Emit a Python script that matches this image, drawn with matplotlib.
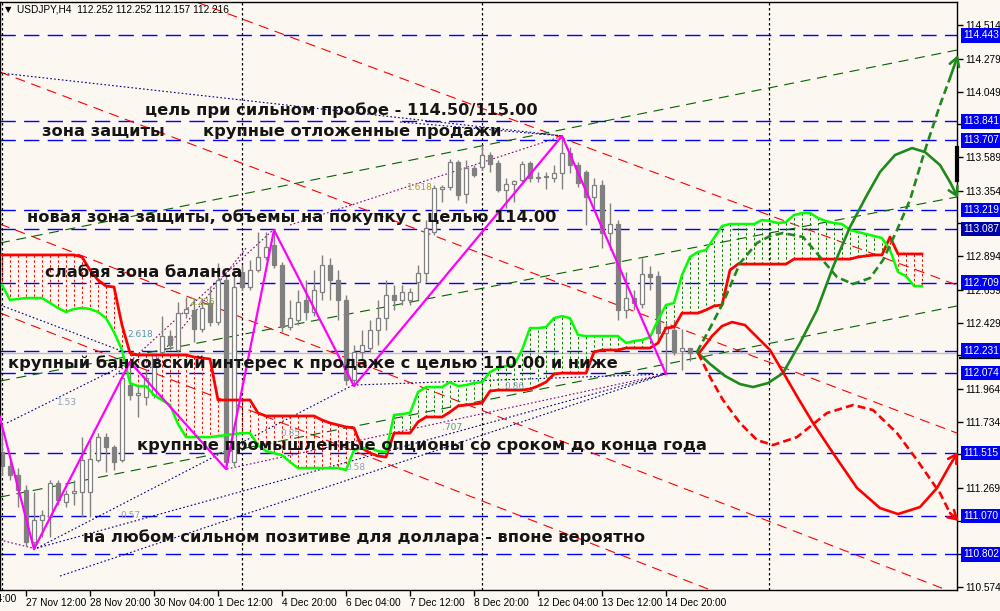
import numpy as np
import matplotlib
matplotlib.use('Agg')
import matplotlib.pyplot as plt
import matplotlib.transforms as mtransforms

# ------------------------------------------------------------------ data
BAR0 = -4  # first bar index (bar 0 = 27 Nov 12:00, H4)
opens = [111.815, 111.520, 111.422, 111.359, 111.253, 110.889, 111.043, 111.064, 111.303, 111.169,
         111.232, 111.239, 111.239, 111.464, 111.625, 111.555, 111.464, 111.990, 111.920, 111.906,
         111.920, 112.222, 112.334, 112.236, 112.495, 112.517, 112.383, 112.566, 112.432, 112.727,
         111.450, 112.783, 112.678, 112.797, 112.889, 112.973, 112.832, 112.397, 112.446, 112.587,
         112.503, 112.643, 112.832, 112.727, 112.587, 112.025, 112.222, 112.250, 112.376, 112.460,
         112.622, 112.587, 112.587, 112.713, 112.776, 113.064, 113.366, 113.380, 113.555, 113.331,
         113.513, 113.520, 113.604, 113.548, 113.359, 113.401, 113.429, 113.548, 113.443, 113.450,
         113.443, 113.478, 113.618, 113.534, 113.485, 113.310, 113.394, 113.057, 113.120, 112.517,
         112.601, 112.559, 112.769, 112.755, 112.355, 112.376, 112.229, 112.252]
highs = [111.920, 111.674, 111.464, 111.408, 111.288, 111.239, 111.113, 111.324, 111.324, 111.253,
         111.324, 111.625, 111.604, 111.653, 111.653, 111.569, 112.081, 112.152, 111.990, 112.095,
         112.215, 112.474, 112.376, 112.573, 112.608, 112.601, 112.601, 112.678, 112.846, 112.762,
         112.797, 112.833, 112.867, 113.064, 113.064, 113.078, 112.853, 112.587, 112.657, 112.727,
         112.797, 112.903, 112.881, 112.797, 112.622, 112.271, 112.376, 112.446, 112.587, 112.727,
         112.692, 112.692, 112.671, 112.833, 113.148, 113.394, 113.394, 113.576, 113.569, 113.569,
         113.534, 113.674, 113.625, 113.569, 113.443, 113.429, 113.562, 113.562, 113.485, 113.485,
         113.534, 113.738, 113.660, 113.555, 113.499, 113.443, 113.429, 113.267, 113.148, 112.783,
         112.657, 112.881, 112.825, 112.790, 112.425, 112.446, 112.383, 112.252]
lows = [111.590, 111.359, 111.324, 111.134, 110.860, 110.839, 110.924, 110.924, 111.148, 111.134,
        111.148, 111.064, 111.064, 111.450, 111.380, 111.394, 111.450, 111.885, 111.766, 111.850,
        111.899, 112.201, 112.236, 112.222, 112.460, 112.292, 112.362, 112.404, 112.411, 111.401,
        111.422, 112.657, 112.657, 112.783, 112.867, 112.811, 112.362, 112.376, 112.411, 112.446,
        112.474, 112.587, 112.587, 112.446, 111.990, 111.983, 112.166, 112.222, 112.271, 112.376,
        112.517, 112.552, 112.552, 112.587, 112.713, 113.043, 113.274, 113.359, 113.289, 113.268,
        113.450, 113.499, 113.485, 113.345, 113.232, 113.274, 113.415, 113.415, 113.415, 113.366,
        113.415, 113.366, 113.478, 113.380, 113.113, 113.218, 112.952, 112.938, 112.446, 112.460,
        112.517, 112.531, 112.657, 112.306, 112.067, 112.201, 112.095, 112.157]
closes = [111.604, 111.422, 111.359, 111.253, 110.889, 111.043, 111.078, 111.303, 111.183, 111.225,
          111.246, 111.464, 111.471, 111.625, 111.555, 111.450, 112.039, 111.920, 111.934, 112.039,
          112.201, 112.334, 112.271, 112.495, 112.524, 112.383, 112.531, 112.432, 112.727, 111.450,
          112.678, 112.678, 112.797, 112.889, 112.959, 112.832, 112.397, 112.460, 112.573, 112.503,
          112.657, 112.832, 112.727, 112.587, 112.025, 112.222, 112.271, 112.376, 112.460, 112.622,
          112.587, 112.643, 112.643, 112.776, 113.092, 113.373, 113.380, 113.555, 113.324, 113.513,
          113.464, 113.604, 113.541, 113.359, 113.401, 113.422, 113.541, 113.443, 113.443, 113.450,
          113.478, 113.618, 113.534, 113.408, 113.310, 113.394, 113.057, 113.120, 112.517, 112.601,
          112.566, 112.769, 112.748, 112.355, 112.397, 112.222, 112.250, 112.216]

ICHI0 = -3
ichi_red = ([112.903] * 10 + [112.889, 112.797, 112.727, 112.685, 112.678, 112.411, 112.215]
            + [112.201] * 7 + [112.187, 112.180, 112.173] + [111.885] * 5 + [111.794]
            + [111.773] * 7 + [111.745, 111.724, 111.710, 111.696, 111.689]
            + [111.548, 111.513, 111.492, 111.485] + [111.653] * 3 + [111.731]
            + [111.766] * 3 + [111.801, 111.843, 111.850, 111.857, 111.864] + [111.948]
            + [111.955] * 4 + [111.962, 111.983, 112.011, 112.067] + [112.074] * 4 + [112.222]
            + [112.236] * 3 + [112.250] * 4
            + [112.285, 112.390, 112.397, 112.495, 112.495, 112.495, 112.517, 112.545, 112.552]
            + [112.797] + [112.839] * 7 + [112.874] * 8 + [112.889, 112.896, 112.903, 112.903]
            + [113.029] + [112.910] * 4)
ichi_green = ([112.692, 112.587, 112.594, 112.601, 112.601, 112.601, 112.566, 112.531, 112.503, 112.524,
               112.531, 112.524, 112.503, 112.460, 112.362, 112.236, 112.004, 111.983, 111.983, 111.920,
               111.885, 111.850, 111.717, 111.625, 111.625, 111.625, 111.625, 111.632, 111.639, 111.646,
               111.653, 111.653, 111.569, 111.527, 111.513, 111.499, 111.450]
              + [111.408] * 6
              + [111.394, 111.534, 111.548, 111.548, 111.527, 111.520, 111.780, 111.787, 111.794, 111.941,
                 111.976, 111.976, 111.976, 112.011, 111.983, 111.990, 112.004, 112.011, 112.081, 112.110,
                 112.124, 112.131, 112.236, 112.390, 112.390, 112.397, 112.460, 112.474, 112.460, 112.341]
              + [112.334] * 5
              + [112.285, 112.299, 112.306, 112.327, 112.446, 112.552, 112.566, 112.762, 112.889, 112.924,
                 112.938, 113.022, 113.106]
              + [113.120] * 4
              + [113.148, 113.141, 113.127, 113.134, 113.183, 113.197, 113.197, 113.162, 113.141, 113.127,
                 113.120, 113.078, 113.064, 113.050, 113.036, 113.022, 112.938, 112.783, 112.755, 112.685,
                 112.685])

zigzag_bar = [-4, 1, 13, 25, 31, 41, 67, 80]
zigzag_price = [111.920, 110.839, 112.152, 111.401, 113.078, 111.983, 113.738, 112.067]

levels = [114.443, 113.841, 113.707, 113.219, 113.087, 112.709, 112.231, 112.074, 111.515, 111.070, 110.802]
bid_price = 112.216

# forecast scenario paths (bar, price)
fc_green_solid_bar = [83.875, 85.5, 87.375, 89.25, 90.875, 92.75, 94.625, 96.75, 98.875, 100.875,
                      103.0, 105.125, 106.75, 108.625, 110.75, 112.375, 114.25, 115.5, 116.5]
fc_green_solid_px = [112.222, 112.138, 112.054, 111.997, 111.976, 112.004, 112.074, 112.285, 112.517, 112.818,
                     113.099, 113.324, 113.485, 113.604, 113.653, 113.625, 113.534, 113.415, 113.303]
fc_green_dash_bar = [83.875, 85.5, 87.125, 89.25, 91.375, 93.0, 94.625, 97.125, 99.25, 101.375,
                     103.375, 105.5, 107.125, 108.875, 110.5, 112.375, 114.25, 115.5, 116.5]
fc_green_dash_px = [112.222, 112.390, 112.566, 112.846, 112.987, 113.036, 113.057, 113.029, 112.889, 112.748,
                    112.699, 112.741, 112.867, 113.078, 113.289, 113.639, 113.955, 114.145, 114.306]
fc_red_solid_bar = [84.25, 85.75, 87.0, 88.25, 89.875, 91.375, 93.0, 94.625, 96.5, 98.375,
                    100.875, 103.875, 106.75, 109.0, 111.75, 113.875, 115.5, 116.5]
fc_red_solid_px = [112.222, 112.334, 112.404, 112.432, 112.411, 112.327, 112.236, 112.081, 111.899, 111.724,
                   111.513, 111.268, 111.127, 111.085, 111.134, 111.268, 111.429, 111.520]
fc_red_dash_bar = [84.0, 85.5, 87.125, 89.25, 91.375, 93.375, 96.375, 100.125, 103.375, 105.875,
                   108.875, 111.375, 114.25, 115.5, 116.6]
fc_red_dash_px = [112.215, 112.046, 111.885, 111.724, 111.604, 111.569, 111.625, 111.794, 111.850, 111.815,
                  111.653, 111.464, 111.232, 111.092, 111.036]

# channel lines: two anchor points each (bar, price)
red_channels = [((28.0, 114.538), (116.375, 112.692)),
                ((-3.25, 114.187), (116.375, 111.653)),
                ((-3.25, 113.120), (116.375, 110.524)),
                ((-3.25, 112.496), (116.375, 109.878))]
green_channels = [((-3.25, 112.987), (116.375, 114.341)),
                  ((-3.25, 112.018), (116.375, 113.310)),
                  ((-3.25, 111.204), (116.375, 112.545))]
navy_dotted = [((-3.25, 114.180), (67.125, 113.738)),
               ((46.75, 113.836), (67.125, 113.738)),
               ((1.375, 110.846), (40.875, 111.990)),
               ((1.375, 110.846), (79.875, 112.067)),
               ((4.25, 110.650), (79.875, 112.067)),
               ((40.875, 111.990), (79.875, 112.067)),
               ((-3.25, 112.552), (12.625, 112.215)),
               ((-2.375, 111.724), (13.0, 112.152))]
purple_dotted = [((10.875, 112.046), (30.875, 113.078)),
                 ((14.625, 112.046), (27.625, 112.959)),
                 ((33.0, 113.113), (67.125, 113.738)),
                 ((25.125, 111.401), (79.875, 112.067)),
                 ((-3.25, 110.903), (1.375, 110.839))]

fib_labels = ['1.53', '0.57', '0.85', '0.58', '.707', '0.86', '2.618', '2.236', '1.618']
fib_bar = [3.875, 11.75, 31.75, 39.875, 52.0, 59.75, 12.625, 20.375, 47.625]
fib_price = [111.871, 111.078, 111.653, 111.415, 111.689, 111.983, 112.348, 112.566, 113.373]
fib_color = ['#8aa2bb', '#8aa2bb', '#8aa2bb', '#8aa2bb', '#4f9c8c', '#8aa2bb', '#4f98b0', '#8c9c3c', '#a8a030']

separators = [-3, 27, 57, 92.875]

notes = ['цель при сильном пробое - 114.50/115.00',
         'зона защиты',
         'крупные отложенные продажи',
         'новая зона защиты, объемы на покупку с целью 114.00',
         'слабая зона баланса',
         'крупный банковский интерес к продаже с целью 110.00 и ниже',
         'крупные промышленные опционы со сроком до конца года',
         'на любом сильном позитиве для доллара - впоне вероятно']
note_bar = [14.875, 2.0, 22.125, 0.125, 2.375, -2.25, 13.875, 7.125]
note_price = [113.920, 113.766, 113.766, 113.169, 112.783, 112.145, 111.569, 110.924]

tick_prices = [114.514, 114.279, 114.049, 113.819, 113.589, 113.354, 113.124, 112.894, 112.659,
               112.429, 112.199, 111.964, 111.734, 111.504, 111.269, 111.039, 110.804, 110.574]
covered_ticks = [113.819, 113.124, 112.199, 111.504, 111.039, 110.804]
time_bars = [-8, 0, 8, 16, 24, 32, 40, 48, 56, 64, 72, 80]
time_labels = ['24 Nov 04:00', '27 Nov 12:00', '28 Nov 20:00', '30 Nov 04:00', '1 Dec 12:00',
               '4 Dec 20:00', '6 Dec 04:00', '7 Dec 12:00', '8 Dec 20:00', '12 Dec 04:00',
               '13 Dec 12:00', '14 Dec 20:00']
title = 'USDJPY,H4  112.252 112.252 112.157 112.216'

# ------------------------------------------------------------------ figure
BG = '#fdf7f1'
SCALE_FONT = 'Liberation Sans'
W, H = 1000, 611
XL = (-3.25, 116.375)
YL = (110.552, 114.678)
fig = plt.figure(figsize=(10, 6.11), dpi=100, facecolor=BG)
ax = fig.add_axes([0, 21 / H, 957 / W, 588 / H])
ax.set_facecolor(BG)
for s in ax.spines.values():
    s.set_color('black')
    s.set_linewidth(1)

# right price scale / time scale (set before limits so limits are not widened)
ax.yaxis.tick_right()
ax.set_yticks(tick_prices)
ax.set_yticklabels(['' if v in covered_ticks else f'{v:.3f}' for v in tick_prices], family=SCALE_FONT)
ax.tick_params(axis='y', direction='out', length=4, width=1, pad=2, labelsize=7.3, colors='black')
vis = [(b, t) for b, t in zip(time_bars, time_labels) if b >= XL[0]]
ax.set_xticks([b for b, _ in vis])
ax.set_xticklabels([t for _, t in vis], ha='left', family=SCALE_FONT)
ax.tick_params(axis='x', direction='out', length=4, width=1, pad=2, labelsize=7.3, colors='black')
ax.set_xlim(*XL)
ax.set_ylim(*YL)
ax.set_autoscale_on(False)

# time label left of the view: only its tail is inside the picture
fig.text(16 / W, 1 - 599 / H, time_labels[0], fontsize=7.3, family=SCALE_FONT, va='center', ha='right')

# horizontal levels
for lv in levels:
    ax.axhline(lv, color='#0000ff', lw=1.0, dashes=(11, 6), zorder=1)
ax.axhline(bid_price, color='#c0c0c0', lw=1.0, zorder=1)

# separators
for sx in separators:
    ax.axvline(sx, color='black', lw=0.9, dashes=(2, 2), zorder=1)

# channels
for p1, p2 in red_channels:
    ax.axline(p1, p2, color='#ff0000', lw=0.8, dashes=(9, 6), zorder=1.2)
for p1, p2 in green_channels:
    ax.axline(p1, p2, color='#006400', lw=0.8, dashes=(9, 6), zorder=1.2)
for (x1, y1), (x2, y2) in navy_dotted:
    ax.plot([x1, x2], [y1, y2], color='#000080', lw=0.8, dashes=(1.5, 2), zorder=1.3)
for (x1, y1), (x2, y2) in purple_dotted:
    ax.plot([x1, x2], [y1, y2], color='#800080', lw=0.8, dashes=(1.5, 2), zorder=1.3)

# ichimoku cloud hatch + lines
ik = np.arange(ICHI0, ICHI0 + len(ichi_red))
ir = np.array(ichi_red)
ig = np.array(ichi_green)
for k, r, g in zip(ik, ir, ig):
    col = '#ff0000' if r >= g else '#008000'
    ax.plot([k, k], [r, g], color=col, lw=0.7, dashes=(2.5, 2.5), zorder=1.5)

# candles
kb = np.arange(BAR0, BAR0 + len(opens))
o = np.array(opens); h = np.array(highs); l = np.array(lows); c = np.array(closes)
ax.vlines(kb, l, h, color='#808080', lw=1.0, zorder=2)
up = c >= o
body_h = np.where(np.abs(c - o) < 0.004, 0.004, np.abs(c - o))
body_b = np.minimum(o, c)
ax.bar(kb[up], body_h[up], bottom=body_b[up], width=0.62, color='white', edgecolor='#808080', lw=0.9, zorder=2.2)
ax.bar(kb[~up], body_h[~up], bottom=body_b[~up], width=0.62, color='#808080', edgecolor='#808080', lw=0.9, zorder=2.2)

ax.plot(ik, ir, color='#ff0000', lw=2.0, zorder=3)
ax.plot(ik, ig, color='#00ff00', lw=1.8, zorder=3)

# zigzag
ax.plot(zigzag_bar, zigzag_price, color='#ff00ff', lw=1.6, zorder=3.2)

# fib labels
for t, xb, yp, col in zip(fib_labels, fib_bar, fib_price, fib_color):
    ax.text(xb, yp, t, color=col, fontsize=6.5, va='center', ha='left', zorder=3.3)

# forecast paths
def path(xs, ys, col, dashed):
    kw = dict(color=col, lw=1.9, zorder=4, solid_capstyle='round', clip_on=False)
    if dashed:
        kw['dashes'] = (3, 1.6)
    ax.plot(xs[:-1], ys[:-1], **kw)
    ax.annotate('', xy=(xs[-1], ys[-1]), xytext=(xs[-2], ys[-2]),
                arrowprops=dict(arrowstyle='->,head_length=0.6,head_width=0.35', color=col, lw=1.9,
                                shrinkA=0, shrinkB=0), annotation_clip=False, zorder=4)

path(fc_green_solid_bar, fc_green_solid_px, '#1e8a1e', False)
path(fc_green_dash_bar, fc_green_dash_px, '#1e8a1e', True)
path(fc_red_solid_bar, fc_red_solid_px, '#ff0000', False)
path(fc_red_dash_bar, fc_red_dash_px, '#ff0000', True)

# notes (common size fitted to the widest annotation)
fig.canvas.draw()
rend = fig.canvas.get_renderer()
probe = ax.text(0, 112, notes[5], fontsize=12, fontweight='bold', family='DejaVu Sans')
wpx = probe.get_window_extent(rend).width
probe.remove()
fs = 12 * 604.0 / wpx
for t, xb, yp in zip(notes, note_bar, note_price):
    ax.text(xb, yp, t, fontsize=fs, fontweight='bold', family='DejaVu Sans', color='#151515',
            va='center', ha='left', zorder=6)

# level labels on the price scale
trans = mtransforms.blended_transform_factory(ax.transAxes, ax.transData)
ax.plot([1.003, 1.045], [112.178, 112.178], transform=trans, color='black', lw=1.6,
        clip_on=False, zorder=9)
for lv in levels:
    fc = '#0000a8' if abs(lv - 113.087) < 1e-6 else '#0000f0'
    ax.text(1 + 6 / 957, lv, f'{lv:.3f}', transform=trans, color='white', fontsize=7.3,
            family=SCALE_FONT, va='center', ha='left', clip_on=False, zorder=10,
            bbox=dict(boxstyle='square,pad=0.22', fc=fc, ec='none'))
ax.plot([1.0, 1.0], [113.653, 113.429], transform=trans, color='black', lw=3, clip_on=False, zorder=10)

# title
fig.text(5 / W, 1 - 10 / H, '\u25bc', fontsize=6, color='black', va='center', ha='left')
fig.text(17 / W, 1 - 10 / H, title, fontsize=7.3, family=SCALE_FONT, color='black', va='center', ha='left')

fig.savefig('out.png', dpi=100, facecolor=BG)
